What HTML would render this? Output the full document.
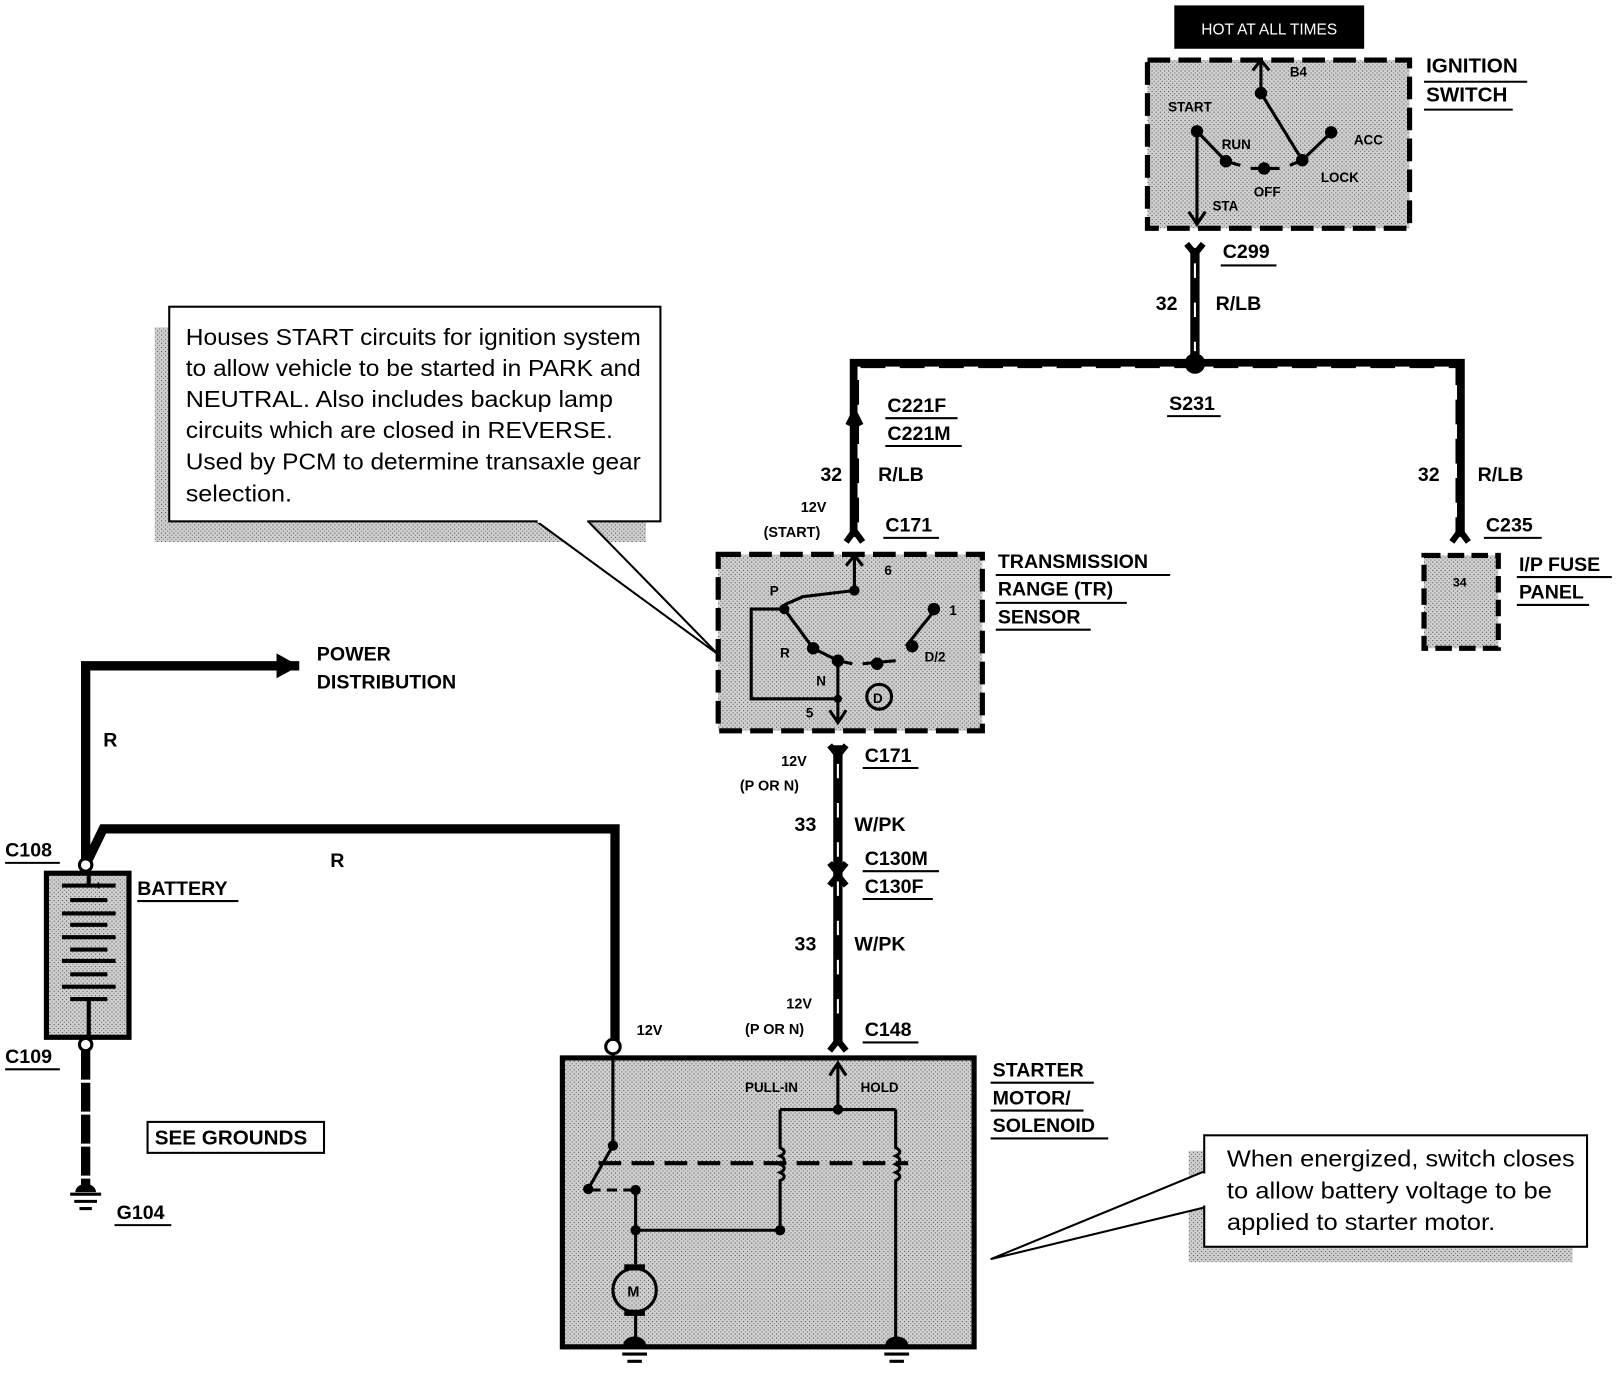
<!DOCTYPE html>
<html><head><meta charset="utf-8"><style>
html,body{margin:0;padding:0;background:#fff}
svg{display:block}
text{font-family:"Liberation Sans",Arial,sans-serif;font-weight:bold;fill:#000}
</style></head><body>
<svg width="1618" height="1376" viewBox="0 0 1568 1333" xmlns="http://www.w3.org/2000/svg">
<defs>
<pattern id="g" width="4" height="4" patternUnits="userSpaceOnUse"><rect width="4" height="4" fill="#d0d0d0"/><rect width="1" height="1" fill="#444"/><rect x="2" y="2" width="1" height="1" fill="#666"/></pattern>
</defs>

<rect x="1138" y="5" width="184" height="42" fill="#000"/>
<text x="1230" y="33" text-anchor="middle" font-size="15" style="fill:#fff;font-weight:normal">HOT AT ALL TIMES</text>

<rect x="1112" y="58" width="254" height="163" fill="url(#g)" stroke="#000" stroke-width="5" stroke-dasharray="22,8"/>
<g stroke="#000" stroke-width="3" fill="none">
<line x1="1222" y1="60" x2="1222" y2="90"/><path d="M1214 68 L1222 58 L1230 68"/>
<line x1="1222" y1="90" x2="1262" y2="155"/>
<line x1="1262" y1="155" x2="1290" y2="128"/>
<line x1="1160" y1="127" x2="1160" y2="215"/><path d="M1152 205 L1160 217 L1168 205"/>
<path d="M1160 127 L1188 156 L1202 160"/><path d="M1212 163 L1240 163"/><path d="M1250 160 L1262 155"/>
</g>
<g fill="#000"><circle cx="1222" cy="90" r="6"/><circle cx="1262" cy="155" r="6"/><circle cx="1290" cy="128" r="6"/><circle cx="1160" cy="127" r="6"/><circle cx="1188" cy="156" r="6"/><circle cx="1225" cy="163" r="6"/></g>
<g font-size="13"><text x="1250" y="74">B4</text><text x="1132" y="108">START</text><text x="1184" y="144">RUN</text><text x="1312" y="140">ACC</text><text x="1280" y="176">LOCK</text><text x="1215" y="190">OFF</text><text x="1175" y="204">STA</text></g>
<g font-size="20"><text x="1382" y="70">IGNITION</text><text x="1382" y="98">SWITCH</text></g>
<line x1="1380" y1="79" x2="1480" y2="79" stroke="#000" stroke-width="2"/><line x1="1380" y1="106" x2="1466" y2="106" stroke="#000" stroke-width="2"/>

<g stroke="#000" stroke-width="9" fill="none" stroke-linejoin="miter">
<path d="M1158 240 L1158 352"/>
<path d="M828 520 L828 352 L1415 352 L1415 520"/>
<path d="M812 722 L812 1012"/>
<path d="M290 645 L83 645 L83 838"/>
<path d="M83 838 L100 803 L596 803 L596 1012"/>
</g>
<g stroke="#fff" stroke-width="2" stroke-dasharray="14,24" fill="none">
<path d="M1158 255 L1158 340"/><path d="M832 520 L832 356 L1411 356 L1411 520"/><path d="M812 740 L812 1000"/>
</g>
<circle cx="1158" cy="352" r="10" fill="#000"/>
<path d="M1150 236 L1158 246 L1166 236" stroke="#000" stroke-width="6" fill="none"/>
<path d="M822 412 L828 400 L834 412" stroke="#000" stroke-width="6" fill="none"/>
<path d="M820 525 L828 514 L836 525" stroke="#000" stroke-width="6" fill="none"/>
<path d="M1407 525 L1415 514 L1423 525" stroke="#000" stroke-width="6" fill="none"/>
<path d="M804 722 L812 732 L820 722" stroke="#000" stroke-width="6" fill="none"/>
<path d="M804 836 L812 846 L820 836" stroke="#000" stroke-width="6" fill="none"/>
<path d="M804 858 L812 848 L820 858" stroke="#000" stroke-width="6" fill="none"/>
<path d="M804 1018 L812 1008 L820 1018" stroke="#000" stroke-width="6" fill="none"/>
<polygon points="268,633 290,645 268,657" fill="#000"/>

<g font-size="19">
<text x="1185" y="250">C299</text><text x="1120" y="300">32</text><text x="1178" y="300">R/LB</text>
<text x="1133" y="397">S231</text><text x="860" y="399">C221F</text><text x="860" y="426">C221M</text>
<text x="795" y="466">32</text><text x="851" y="466">R/LB</text><text x="858" y="515">C171</text>
<text x="1374" y="466">32</text><text x="1432" y="466">R/LB</text><text x="1440" y="515">C235</text>
<text x="838" y="738">C171</text><text x="770" y="805">33</text><text x="828" y="805">W/PK</text>
<text x="838" y="838">C130M</text><text x="838" y="865">C130F</text>
<text x="770" y="921">33</text><text x="828" y="921">W/PK</text><text x="838" y="1004">C148</text>
<text x="100" y="723">R</text><text x="320" y="840">R</text>
<text x="5" y="830">C108</text><text x="133" y="867">BATTERY</text><text x="5" y="1030">C109</text><text x="113" y="1181">G104</text>
<text x="307" y="640">POWER</text><text x="307" y="667">DISTRIBUTION</text>
<text x="967" y="550">TRANSMISSION</text><text x="967" y="577">RANGE (TR)</text><text x="967" y="604">SENSOR</text>
<text x="1472" y="553">I/P FUSE</text><text x="1472" y="580">PANEL</text>
<text x="962" y="1043">STARTER</text><text x="962" y="1070">MOTOR/</text><text x="962" y="1097">SOLENOID</text>
</g>
<g stroke="#000" stroke-width="2">
<line x1="1183" y1="257" x2="1237" y2="257"/><line x1="1131" y1="403" x2="1183" y2="403"/>
<line x1="858" y1="405" x2="928" y2="405"/><line x1="858" y1="432" x2="932" y2="432"/><line x1="856" y1="521" x2="910" y2="521"/>
<line x1="1438" y1="521" x2="1494" y2="521"/><line x1="836" y1="744" x2="890" y2="744"/>
<line x1="836" y1="844" x2="910" y2="844"/><line x1="836" y1="871" x2="904" y2="871"/><line x1="836" y1="1010" x2="890" y2="1010"/>
<line x1="5" y1="836" x2="58" y2="836"/><line x1="133" y1="873" x2="231" y2="873"/><line x1="5" y1="1036" x2="58" y2="1036"/><line x1="111" y1="1187" x2="166" y2="1187"/>
<line x1="965" y1="557" x2="1134" y2="557"/><line x1="965" y1="584" x2="1092" y2="584"/><line x1="965" y1="610" x2="1057" y2="610"/>
<line x1="1470" y1="559" x2="1562" y2="559"/><line x1="1470" y1="586" x2="1540" y2="586"/>
<line x1="960" y1="1049" x2="1060" y2="1049"/><line x1="960" y1="1076" x2="1050" y2="1076"/><line x1="960" y1="1103" x2="1074" y2="1103"/>
</g>
<g font-size="14"><text x="776" y="496">12V</text><text x="740" y="520">(START)</text><text x="757" y="742">12V</text><text x="717" y="766">(P OR N)</text><text x="762" y="977">12V</text><text x="722" y="1002">(P OR N)</text><text x="617" y="1003">12V</text></g>

<rect x="1380" y="538" width="72" height="90" fill="url(#g)" stroke="#000" stroke-width="5" stroke-dasharray="16,7"/>
<text x="1408" y="568" font-size="12">34</text>

<rect x="150" y="317" width="476" height="208" fill="url(#g)"/>
<polygon points="520,505 570,505 696,634" fill="#fff" stroke="#000" stroke-width="2"/>
<rect x="164" y="297" width="476" height="208" fill="#fff" stroke="#000" stroke-width="2"/>
<line x1="521" y1="505" x2="569" y2="505" stroke="#fff" stroke-width="3"/>
<g font-size="22" style="font-weight:normal">
<text x="180" y="334" textLength="441" lengthAdjust="spacingAndGlyphs" style="font-weight:normal">Houses START circuits for ignition system</text>
<text x="180" y="364" textLength="441" lengthAdjust="spacingAndGlyphs" style="font-weight:normal">to allow vehicle to be started in PARK and</text>
<text x="180" y="394" textLength="414" lengthAdjust="spacingAndGlyphs" style="font-weight:normal">NEUTRAL. Also includes backup lamp</text>
<text x="180" y="424" textLength="414" lengthAdjust="spacingAndGlyphs" style="font-weight:normal">circuits which are closed in REVERSE.</text>
<text x="180" y="455" textLength="441" lengthAdjust="spacingAndGlyphs" style="font-weight:normal">Used by PCM to determine transaxle gear</text>
<text x="180" y="486" textLength="103" lengthAdjust="spacingAndGlyphs" style="font-weight:normal">selection.</text>
</g>

<rect x="696" y="537" width="256" height="171" fill="url(#g)" stroke="#000" stroke-width="5" stroke-dasharray="22,8"/>
<g stroke="#000" stroke-width="3" fill="none">
<path d="M828 540 L828 572"/><path d="M820 548 L828 538 L836 548"/>
<path d="M828 572 L778 578 L760 586"/>
<path d="M760 590 L728 590 L728 677 L810 677"/>
<path d="M760 590 L788 628 L812 640"/><path d="M812 640 L812 698"/><path d="M804 688 L812 700 L820 688"/>
<path d="M812 640 L826 643"/><path d="M836 643 L868 640"/><path d="M878 626 L905 592"/>
</g>
<g fill="#000"><circle cx="828" cy="572" r="5"/><circle cx="760" cy="590" r="5"/><circle cx="788" cy="628" r="6"/><circle cx="812" cy="640" r="6"/><circle cx="850" cy="643" r="6"/><circle cx="884" cy="626" r="6"/><circle cx="905" cy="590" r="6"/><circle cx="812" cy="677" r="4"/></g>
<circle cx="852" cy="675" r="12" fill="none" stroke="#000" stroke-width="3"/>
<g font-size="13"><text x="746" y="577">P</text><text x="857" y="557">6</text><text x="920" y="596">1</text><text x="756" y="637">R</text><text x="896" y="641">D/2</text><text x="791" y="664">N</text><text x="846" y="681">D</text><text x="781" y="695">5</text></g>

<rect x="45" y="846" width="80" height="159" fill="url(#g)" stroke="#000" stroke-width="5"/>
<g stroke="#000" stroke-width="4">
<line x1="60" y1="858" x2="112" y2="858"/><line x1="68" y1="872" x2="104" y2="872"/><line x1="60" y1="885" x2="112" y2="885"/><line x1="68" y1="896" x2="104" y2="896"/><line x1="60" y1="908" x2="112" y2="908"/><line x1="68" y1="920" x2="104" y2="920"/><line x1="60" y1="931" x2="112" y2="931"/><line x1="68" y1="944" x2="104" y2="944"/><line x1="60" y1="956" x2="112" y2="956"/><line x1="68" y1="968" x2="104" y2="968"/>
<line x1="86" y1="846" x2="86" y2="858"/><line x1="86" y1="968" x2="86" y2="1005"/>
</g>
<text x="92" y="862" font-size="12">+</text>
<circle cx="83" cy="838" r="6" fill="#fff" stroke="#000" stroke-width="3"/>
<circle cx="83" cy="1012" r="6" fill="#fff" stroke="#000" stroke-width="3"/>
<line x1="83" y1="1018" x2="83" y2="1148" stroke="#000" stroke-width="9" stroke-dasharray="28,3"/>
<path d="M73 1155 A10 8 0 0 1 93 1155 Z" fill="#000"/>
<g stroke="#000" stroke-width="3"><line x1="68" y1="1157" x2="98" y2="1157"/><line x1="72" y1="1164" x2="94" y2="1164"/><line x1="77" y1="1171" x2="89" y2="1171"/></g>
<rect x="143" y="1087" width="171" height="30" fill="#fff" stroke="#000" stroke-width="2"/>
<text x="150" y="1109" font-size="20">SEE GROUNDS</text>

<rect x="545" y="1025" width="399" height="280" fill="url(#g)" stroke="#000" stroke-width="5"/>
<circle cx="594" cy="1014" r="7" fill="#fff" stroke="#000" stroke-width="3"/>
<g stroke="#000" stroke-width="3" fill="none">
<path d="M594 1021 L594 1110 L570 1152"/>
<path d="M572 1153 L612 1153" stroke-dasharray="10,6"/>
<path d="M616 1153 L616 1225"/><path d="M616 1273 L616 1300"/>
<path d="M812 1030 L812 1075"/><path d="M804 1042 L812 1030 L820 1042"/>
<path d="M756 1075 L868 1075"/><path d="M756 1075 L756 1112 q8 4 0 8 q8 4 0 8 q8 4 0 8 q8 4 0 8 L756 1192 L616 1192"/>
<path d="M868 1075 L868 1112 q8 4 0 8 q8 4 0 8 q8 4 0 8 q8 4 0 8 L868 1300"/>
<path d="M580 1127 L880 1127" stroke-width="4" stroke-dasharray="22,10"/>
</g>
<g fill="#000"><circle cx="594" cy="1110" r="5"/><circle cx="570" cy="1152" r="5"/><circle cx="616" cy="1153" r="5"/><circle cx="616" cy="1192" r="5"/><circle cx="756" cy="1192" r="5"/><circle cx="812" cy="1075" r="5"/></g>
<circle cx="615" cy="1250" r="21" fill="url(#g)" stroke="#000" stroke-width="3"/>
<rect x="605" y="1225" width="20" height="6" fill="#000"/><rect x="605" y="1269" width="20" height="6" fill="#000"/>
<text x="608" y="1256" font-size="14">M</text>
<g font-size="13"><text x="722" y="1058">PULL-IN</text><text x="834" y="1058">HOLD</text></g>
<g stroke="#000" stroke-width="3"><line x1="598" y1="1305" x2="632" y2="1305"/><line x1="603" y1="1312" x2="627" y2="1312"/><line x1="608" y1="1319" x2="622" y2="1319"/>
<line x1="852" y1="1305" x2="886" y2="1305"/><line x1="857" y1="1312" x2="881" y2="1312"/><line x1="862" y1="1319" x2="876" y2="1319"/></g>
<path d="M604 1303 A11 8 0 0 1 626 1303 Z" fill="#000"/><path d="M858 1303 A11 8 0 0 1 880 1303 Z" fill="#000"/>

<rect x="1152" y="1115" width="372" height="108" fill="url(#g)"/>
<polygon points="1167,1135 1167,1170 960,1220" fill="#fff" stroke="#000" stroke-width="2"/>
<rect x="1167" y="1100" width="371" height="108" fill="#fff" stroke="#000" stroke-width="2"/>
<line x1="1167" y1="1137" x2="1167" y2="1168" stroke="#fff" stroke-width="3"/>
<text x="1189" y="1130" font-size="22" textLength="337" lengthAdjust="spacingAndGlyphs" style="font-weight:normal">When energized, switch closes</text>
<text x="1189" y="1161" font-size="22" textLength="315" lengthAdjust="spacingAndGlyphs" style="font-weight:normal">to allow battery voltage to be</text>
<text x="1189" y="1192" font-size="22" textLength="260" lengthAdjust="spacingAndGlyphs" style="font-weight:normal">applied to starter motor.</text>
</svg>
</body></html>
